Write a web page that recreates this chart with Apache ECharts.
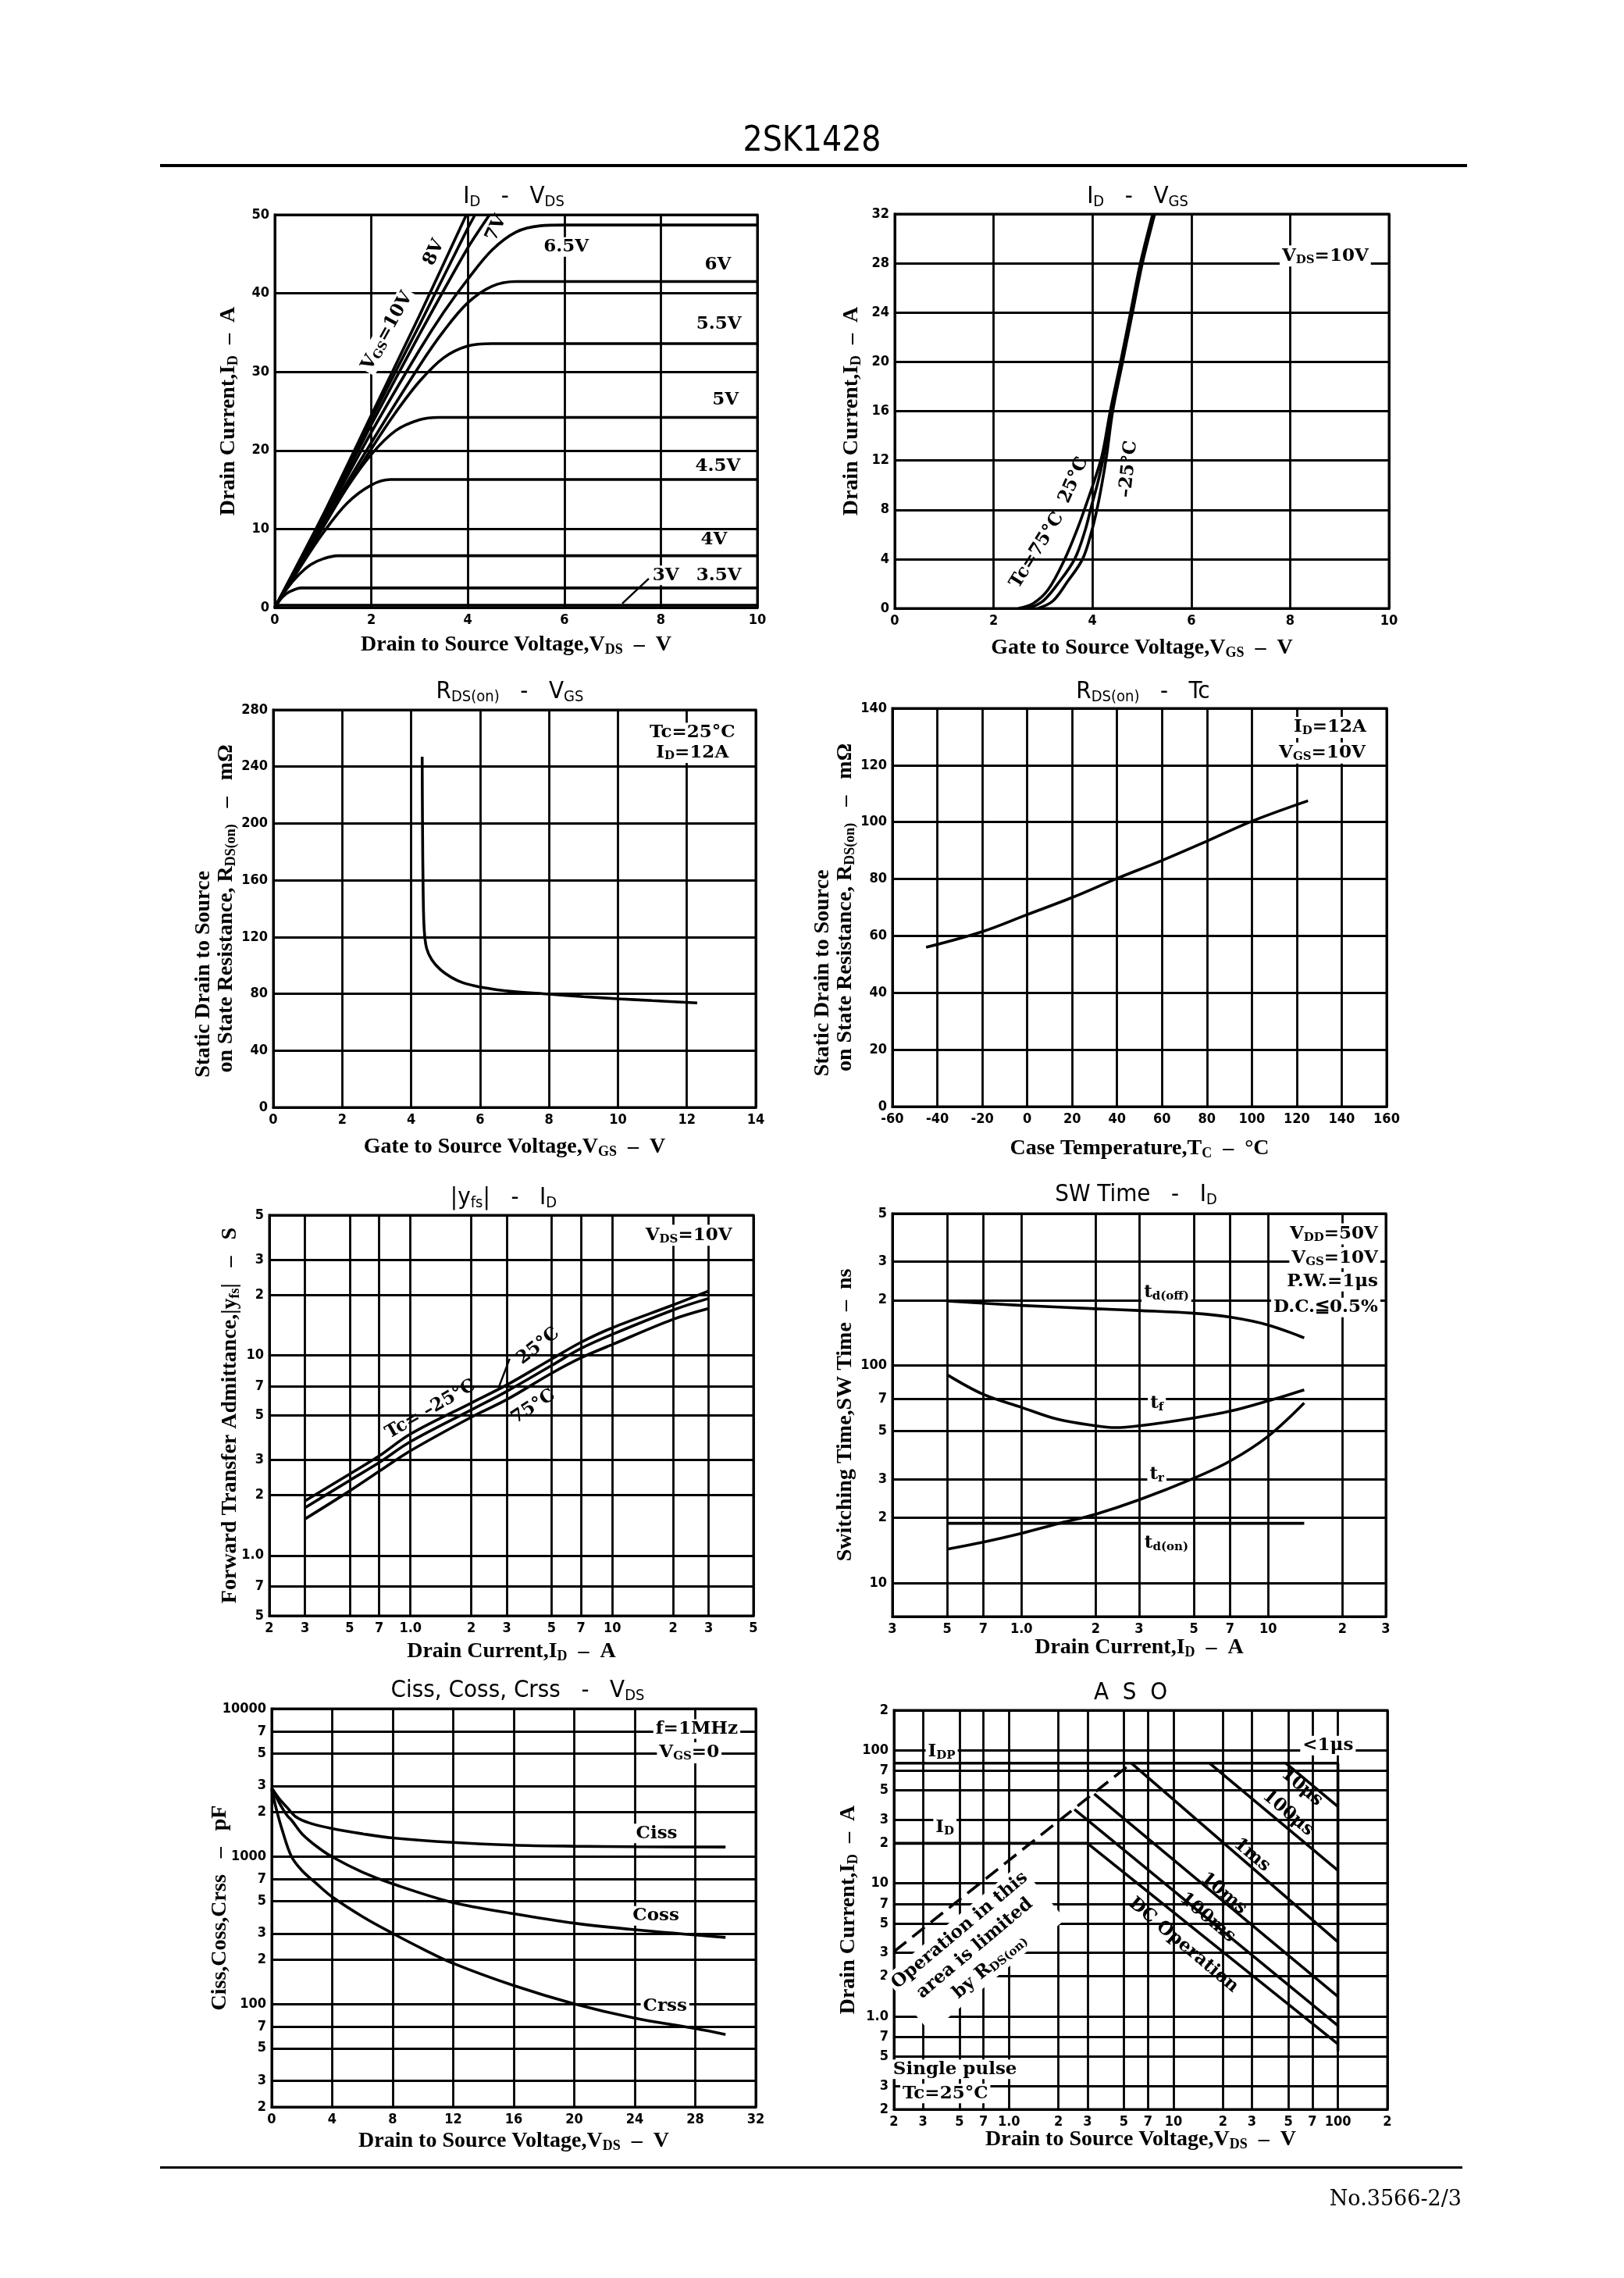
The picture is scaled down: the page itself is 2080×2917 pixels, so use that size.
<!DOCTYPE html>
<html><head><meta charset="utf-8">
<script src="https://cdn.jsdelivr.net/npm/echarts@6/dist/echarts.min.js"></script>
<style>html,body{margin:0;padding:0;background:#fff}#c{width:2080px;height:2917px}</style>
</head><body><div id="c"></div>
<script>
// ================= DATA =================
// Chart 1: ID - VDS  ([VDS V, ID A])
const vds10V = [[0,0],[1,11.8],[2,24.5],[3,37.2],[3.97,50]];
const vds8V  = [[0,0],[1,11.6],[2,24],[3,36],[4,48.3],[4.15,50]];
const vds7V  = [[0,0],[1,11.3],[2,23.3],[3,34.8],[4,45.8],[4.45,50]];
const vds6V5 = [[0,0],[1,11],[2,22.3],[3,32.8],[3.5,37.6],[4,41.8],[4.5,45.5],[5,47.8],[5.5,48.6],[6,48.7],[10,48.7]];
const vds6V  = [[0,0],[1,10.7],[2,21],[3,30.8],[3.5,35.2],[4,38.8],[4.5,40.9],[5,41.5],[6,41.5],[10,41.5]];
const vds5V5 = [[0,0],[1,10.4],[2,20.2],[2.5,24.8],[3,28.8],[3.5,31.8],[4,33.3],[4.5,33.6],[5.5,33.6],[10,33.6]];
const vds5V  = [[0,0],[0.5,5.2],[1,10.2],[1.5,15.3],[2,19.5],[2.5,22.5],[3,23.9],[3.4,24.2],[4.5,24.2],[10,24.2]];
const vds4V5 = [[0,0],[0.5,4.9],[1,9.5],[1.5,13.3],[2,15.6],[2.4,16.3],[3.5,16.3],[10,16.3]];
const vds4V  = [[0,0],[0.25,2.4],[0.5,4.2],[0.75,5.5],[1,6.2],[1.3,6.6],[2.5,6.6],[10,6.6]];
const vds3V5 = [[0,0],[0.15,1.3],[0.3,2.0],[0.55,2.5],[1.5,2.5],[10,2.5]];
const vds3V  = [[0,0],[0.1,0.3],[1,0.3],[10,0.3]];

// Chart 2: ID - VGS ([VGS V, ID A])
const vgsTc75  = [[2.5,0],[2.8,0.4],[3.1,1.5],[3.44,4],[3.7,6.5],[3.88,8.5],[4.05,10.5],[4.2,12.5],[4.36,16],[4.57,20],[4.77,24],[4.97,28],[5.22,32]];
const vgsTc25  = [[2.7,0],[3.0,0.6],[3.3,2.0],[3.64,4],[3.85,6.3],[3.98,8.3],[4.12,10.4],[4.24,12.6],[4.38,16],[4.59,20],[4.79,24],[4.99,28],[5.24,32]];
const vgsTcM25 = [[2.9,0],[3.2,0.6],[3.5,2.2],[3.8,4],[3.98,6.2],[4.1,8.2],[4.2,10.3],[4.29,12.5],[4.41,16],[4.61,20],[4.81,24],[5.01,28],[5.26,32]];

// Chart 3: RDS(on) - VGS ([VGS V, mOhm])
const rdsVgs = [[4.32,247],[4.33,200],[4.35,150],[4.38,125],[4.45,112],[4.6,104],[4.85,97],[5.17,91.5],[5.5,87.8],[6,84.8],[6.5,82.8],[7,81.5],[8,79.8],[9,78],[10,76.5],[11,75.2],[12.3,73.6]];

// Chart 4: RDS(on) - Tc ([degC, mOhm])
const rdsTc = [[-45,56],[-20,61.5],[0,67.5],[20,73.5],[40,80.2],[60,86.5],[80,93.3],[100,100.3],[125,107.5]];

// Chart 5: |yfs| - ID ([A, S])
const yfsM25 = [[0.3,1.87],[0.5,2.55],[0.7,3.14],[1,4.04],[2,5.77],[3,7.1],[5,9.56],[7,11.6],[10,13.7],[20,17.8],[30,20.9]];
const yfs25  = [[0.3,1.73],[0.5,2.37],[0.7,2.91],[1,3.7],[2,5.33],[3,6.6],[5,8.88],[7,10.8],[10,12.7],[20,16.8],[30,19.2]];
const yfs75  = [[0.3,1.52],[0.5,2.1],[0.7,2.63],[1,3.33],[2,4.9],[3,6.0],[5,8.12],[7,9.7],[10,11.3],[20,15.1],[30,17.1]];
const yfsXTicks = [0.2,0.3,0.5,0.7,1,2,3,5,7,10,20,30,50];
const yfsXLabels = ['2','3','5','7','1.0','2','3','5','7','10','2','3','5'];
const yfsYTicks = [0.5,0.7,1,2,3,5,7,10,20,30,50];
const yfsYLabels = ['5','7','1.0','2','3','5','7','10','2','3','5'];

// Chart 6: SW Time - ID ([A, ns])
const swTdOff = [[0.5,198],[1,189],[2,182.5],[3,179],[5,174],[7,167],[10,153.6],[14,134]];
const swTf    = [[0.5,90.7],[0.7,73.7],[1,64.2],[1.4,56.6],[2,52.8],[2.4,51.8],[3,52.8],[5,57.4],[7,61.6],[10,68.8],[14,77.3]];
const swTr    = [[0.5,14.3],[0.7,15.4],[1,16.9],[1.4,18.7],[2,20.7],[3,24.1],[5,30.3],[7,36.3],[10,47.3],[14,67.3]];
const swTdOn  = [[0.5,18.8],[14,18.8]];
const swXTicks = [0.3,0.5,0.7,1,2,3,5,7,10,20,30];
const swXLabels = ['3','5','7','1.0','2','3','5','7','10','2','3'];
const swYTicks = [10,20,30,50,70,100,200,300,500];
const swYLabels = ['10','2','3','5','7','100','2','3','5'];

// Chart 7: Ciss, Coss, Crss - VDS ([V, pF])
const capCiss = [[0,2900],[0.5,2450],[1,2150],[1.6,1850],[2.5,1680],[4,1540],[6,1420],[8,1330],[12,1240],[16,1190],[20,1170],[24,1160],[30,1155]];
const capCoss = [[0,2900],[0.5,2300],[1,1900],[1.34,1740],[2,1420],[3,1160],[4,990],[6,780],[8,650],[12,485],[16,408],[20,352],[24,318],[30,282]];
const capCrss = [[0,2850],[0.3,2100],[0.7,1500],[1.3,1000],[2,800],[3,647],[4,530],[6,390],[8,300],[10,235],[12,188],[16,133],[20,100],[24,80],[28,68],[30,62]];
const capYTicks = [20,30,50,70,100,200,300,500,700,1000,2000,3000,5000,7000,10000];
const capYLabels = ['2','3','5','7','100','2','3','5','7','1000','2','3','5','7','10000'];

// Chart 8: ASO ([V, A])
const asoIdp   = [[0.2,80],[100,80]];
const asoDc    = [[0.2,20],[3.0,20],[100,0.62]];
const asoVdss  = [[100,80],[100,0.55]];
const asoRds   = [[0.2,3.07],[5.56,80]];
const aso10us  = [[48.3,80],[100,37.7]];
const aso100us = [[16.6,80],[100,12.5]];
const aso1ms   = [[5.56,80],[100,3.63]];
const aso10ms  = [[3.3,47],[100,1.41]];
const aso100ms = [[2.5,36],[100,0.85]];
const asoTicks = [0.2,0.3,0.5,0.7,1,2,3,5,7,10,20,30,50,70,100,200];
const asoLabels = ['2','3','5','7','1.0','2','3','5','7','10','2','3','5','7','100','2'];

// ================= STYLE / LAYOUT =================
const SF = 'Liberation Serif';
const AF = 'DejaVu Serif';
const TF = 'DejaVu Sans Condensed';
const NF = 'DejaVu Sans Condensed';
function subRich(fs, fam, w) {
  return { s: { fontSize: Math.round(fs*0.66), fontFamily: fam, fontWeight: w, color:'#000', padding:[Math.round(fs*0.45),0,0,0] } };
}
function zsubRich(fs, fam, w) {
  return { s: { fontSize: Math.round(fs*0.66), fontFamily: fam, fontWeight: w, fill:'#000', padding:[Math.round(fs*0.45),0,0,0] } };
}
const NAME_FS = 28, TICK_FS = 18, ANN_FS = 23, TITLE_FS = 31;
const nameStyle = {fontFamily:SF, fontWeight:'bold', fontSize:NAME_FS, color:'#000', rich: subRich(NAME_FS, SF, 'bold')};
const tickStyle = {fontFamily:NF, fontWeight:'bold', fontSize:TICK_FS, color:'#000'};
const WB = {backgroundColor:'#fff', padding:[1,3]};
const GRID_W = 2.8;

const grids = [
  {left:352, top:275, width:618, height:503},
  {left:1146, top:274, width:633, height:505},
  {left:350, top:909, width:618, height:509},
  {left:1143, top:907, width:633, height:510},
  {left:345, top:1556, width:620, height:513},
  {left:1143, top:1554, width:632, height:516},
  {left:348, top:2188, width:620, height:510},
  {left:1145, top:2190, width:632, height:511}
].map(g => Object.assign({show:true, borderColor:'#000', borderWidth:3, containLabel:false}, g));

function axis(dim, i, o) {
  const a = {
    type: o.log ? 'log' : 'value', gridIndex: i, min: o.min, max: o.max,
    name: o.name, nameLocation:'middle', nameGap: o.gap,
    nameTextStyle: Object.assign({}, nameStyle, o.nameStyle || {}),
    axisLine: {show:true, onZero:false, lineStyle:{color:'#000', width:3}},
    axisTick: {show:false},
    axisLabel: o.log ? {show:false} : Object.assign({margin:7}, tickStyle),
    splitLine: {show: !o.log, lineStyle:{color:'#000', width:GRID_W}}
  };
  if (o.log) a.logBase = 10; else a.interval = o.interval;
  if (dim === 'y') a.nameRotate = 90;
  return a;
}
const X_VDS = 'Drain to Source Voltage,V{s|DS}  –  V';
const X_VGS = 'Gate to Source Voltage,V{s|GS}  –  V';
const X_ID = 'Drain Current,I{s|D}  –  A';
const Y_ID = 'Drain Current,I{s|D}  –  A';
const Y_RDS = 'Static Drain to Source' + '\u2003'.repeat(6) + '\non State Resistance, R{s|DS(on)}   –   mΩ';

const xAxes = [
  axis('x',0,{min:0,max:10,interval:2,name:X_VDS,gap:32}),
  axis('x',1,{min:0,max:10,interval:2,name:X_VGS,gap:35}),
  axis('x',2,{min:0,max:14,interval:2,name:X_VGS,gap:35}),
  axis('x',3,{min:-60,max:160,interval:20,name:'Case Temperature,T{s|C}  –  °C',gap:38}),
  axis('x',4,{log:true,min:0.2,max:50,name:X_ID,gap:30}),
  axis('x',5,{log:true,min:0.3,max:30,name:X_ID,gap:24}),
  axis('x',6,{min:0,max:32,interval:4,name:X_VDS,gap:28}),
  axis('x',7,{log:true,min:0.2,max:200,name:X_VDS,gap:23})
];
const yAxes = [
  axis('y',0,{min:0,max:50,interval:10,name:Y_ID,gap:44}),
  axis('y',1,{min:0,max:32,interval:4,name:Y_ID,gap:40}),
  axis('y',2,{min:0,max:280,interval:40,name:Y_RDS,gap:44}),
  axis('y',3,{min:0,max:140,interval:20,name:Y_RDS,gap:40}),
  axis('y',4,{log:true,min:0.5,max:50,name:'Forward Transfer Admittance,|y{s|fs}|   –   S',gap:35}),
  axis('y',5,{log:true,min:7,max:500,name:'Switching Time,SW Time  –  ns',gap:46}),
  axis('y',6,{log:true,min:20,max:10000,name:'Ciss,Coss,Crss   –   pF',gap:52}),
  axis('y',7,{log:true,min:0.2,max:200,name:Y_ID,gap:43})
];

function logGrid(xv, xl, yv, yl) {
  const data = [];
  if (xv) xv.forEach((v,k) => data.push({xAxis:v, name:xl[k]}));
  if (yv) yv.forEach((v,k) => data.push({yAxis:v, name:yl[k]}));
  return {silent:true, z:1, symbol:['none','none'], animation:false,
    lineStyle:{color:'#000', width:GRID_W, type:'solid'},
    label:Object.assign({show:true, position:'start', distance:7, formatter:p => p.name}, tickStyle),
    emphasis:{disabled:true}, data};
}
// small curved leader lines from a label to its curve
function leader(pairs) {
  return {silent:true, z:4, symbol:['none','none'], animation:false,
    lineStyle:{color:'#000', width:2.4, type:'solid', curveness:0.35},
    label:{show:false}, emphasis:{disabled:true},
    data: pairs.map(p => [{coord:p[0]},{coord:p[1]}])};
}
function anns(list) {
  return {silent:true, z:6, symbol:'circle', symbolSize:0, itemStyle:{color:'rgba(0,0,0,0)'}, animation:false,
    label:{show:true, position:'inside', formatter:p => p.name, color:'#000', fontFamily:AF, fontWeight:'bold',
      fontSize:ANN_FS, rich: subRich(ANN_FS, AF, 'bold')},
    emphasis:{disabled:true},
    data: list.map(a => ({coord:[a[1],a[2]], name:a[0], label:Object.assign({}, a[3] || {})}))};
}
function line(i, data, extra) {
  return Object.assign({type:'line', xAxisIndex:i, yAxisIndex:i, data, symbol:'none', showSymbol:false,
    smooth:0.35, lineStyle:{color:'#000', width:3.6}, silent:true, animation:false, z:3}, extra || {});
}
const straight = {smooth:false};

const series = [
  // Chart 1
  line(0, vds10V, {smooth:0.2, markLine: leader([[[7.75,3.7],[7.2,0.5]]]), markPoint: anns([
    ['6.5V',6.04,45.9,WB],['6V',9.18,43.6,WB],['5.5V',9.2,36.1,WB],['5V',9.34,26.4,WB],
    ['4.5V',9.18,18.0,WB],['4V',9.1,8.6,WB],['3.5V',9.2,4.1,WB],['3V',8.1,4.1,WB],
    ['V{s|GS}=10V',2.33,35.2,Object.assign({rotate:61},WB)],['8V',3.3,45.2,{rotate:65}],['7V',4.59,48.3,{rotate:65}]
  ])}),
  line(0, vds8V, {smooth:0.2}), line(0, vds7V, {smooth:0.2}), line(0, vds6V5), line(0, vds6V), line(0, vds5V5),
  line(0, vds5V), line(0, vds4V5), line(0, vds4V), line(0, vds3V5), line(0, vds3V),
  // Chart 2
  line(1, vgsTc75, {markPoint: anns([
    ['V{s|DS}=10V',8.71,28.6,WB],['Tc=75°C',2.88,4.7,{rotate:58}],['25°C',3.62,10.4,{rotate:66}],['–25°C',4.73,11.3,{rotate:84}]
  ])}),
  line(1, vgsTc25), line(1, vgsTcM25),
  // Chart 3
  line(2, rdsVgs, {markPoint: anns([['Tc=25°C',12.16,264,WB],['I{s|D}=12A',12.16,250,WB]])}),
  // Chart 4
  line(3, rdsTc, {markPoint: anns([['I{s|D}=12A',134.8,133.3,WB],['V{s|GS}=10V',131.3,124.3,WB]])}),
  // Chart 5
  line(4, yfsM25, {markLine: logGrid(yfsXTicks, yfsXLabels, yfsYTicks, yfsYLabels), markPoint: anns([
    ['V{s|DS}=10V',23.9,39.7,WB],['Tc= –25°C',1.26,5.36,{rotate:30}],['25°C',4.3,11.1,{rotate:38}],['75°C',4.06,5.52,{rotate:33}]
  ])}),
  line(4, yfs25, {markLine: leader([[[3.1,9.6],[2.75,7.0]]])}), line(4, yfs75),
  // Chart 6
  line(5, swTdOff, {markLine: logGrid(swXTicks, swXLabels, swYTicks, swYLabels), markPoint: anns([
    ['t{s|d(off)}',3.87,217,WB],['t{s|f}',3.54,66.9,WB],['t{s|r}',3.54,31.6,WB],['t{s|d(on)}',3.87,15.2,WB],
    ['V{s|DD}=50V',28.5,403,Object.assign({align:'right'},WB)],['V{s|GS}=10V',28.5,313,Object.assign({align:'right'},WB)],
    ['P.W.=1μs',28.5,243,Object.assign({align:'right'},WB)],['D.C.≦0.5%',28.5,185,Object.assign({align:'right'},WB)]
  ])}),
  line(5, swTf), line(5, swTr), line(5, swTdOn, straight),
  // Chart 7
  line(6, capCiss, {markLine: logGrid(null, null, capYTicks, capYLabels), markPoint: anns([
    ['Ciss',25.45,1427,WB],['Coss',25.4,395,WB],['Crss',26,96.6,WB],['f=1MHz',28.1,7290,WB],['V{s|GS}=0',27.6,5030,WB]
  ])}),
  line(6, capCoss), line(6, capCrss),
  // Chart 8
  line(7, asoIdp, {smooth:false, markLine: logGrid(asoTicks, asoLabels, asoTicks, asoLabels), markPoint: anns([
    ['I{s|DP}',0.39,98,WB],['I{s|D}',0.408,26.2,WB],['<1μs',87,108.6,WB],
    ['10μs',60.4,52.7,{rotate:-40}],['100μs',49.7,33.7,{rotate:-40}],['1ms',30,16.3,{rotate:-40}],
    ['10ms',20.2,8.37,{rotate:-40}],['100ms',16.1,5.51,{rotate:-40}],['DC Operation',11.5,3.43,{rotate:-40}],
    ['Operation in this\narea is limited\nby R{s|DS(on)}',0.62,3.24,Object.assign({rotate:40, lineHeight:30},WB)],
    ['Single pulse',0.47,0.40,WB],['Tc=25°C',0.41,0.263,WB]
  ])}),
  line(7, asoDc, straight), line(7, asoVdss, straight),
  line(7, asoRds, {smooth:false, lineStyle:{color:'#000', width:3.6, type:[20,10]}}),
  line(7, aso10us, straight), line(7, aso100us, straight), line(7, aso1ms, straight),
  line(7, aso10ms, straight), line(7, aso100ms, straight)
];

function gtext(text, x, y, o) {
  return {type:'text', x, y, silent:true, style:Object.assign({text, fill:'#000', align:'center', verticalAlign:'middle'}, o)};
}
const tStyle = {fontFamily:TF, fontSize:TITLE_FS, rich: zsubRich(TITLE_FS, TF, 'normal')};
const graphic = [
  gtext('2SK1428', 1040, 182, {fontFamily:TF, fontSize:44}),
  {type:'rect', silent:true, shape:{x:205, y:210, width:1674, height:4}, style:{fill:'#000'}},
  {type:'rect', silent:true, shape:{x:205, y:2774, width:1668, height:3}, style:{fill:'#000'}},
  gtext('No.3566-2/3', 1872, 2817, {fontFamily:'DejaVu Serif', fontSize:27, align:'right'}),
  gtext('I{s|D}   -   V{s|DS}', 658, 252, tStyle),
  gtext('I{s|D}   -   V{s|GS}', 1457, 252, tStyle),
  gtext('R{s|DS(on)}   -   V{s|GS}', 653, 886, tStyle),
  gtext('R{s|DS(on)}   -   Tc', 1464, 886, tStyle),
  gtext('|y{s|fs}|   -   I{s|D}', 645, 1534, tStyle),
  gtext('SW Time   -   I{s|D}', 1455, 1530, tStyle),
  gtext('Ciss, Coss, Crss   -   V{s|DS}', 663, 2165, tStyle),
  gtext('A  S  O', 1448, 2168, tStyle)
];

const chart = echarts.init(document.getElementById('c'), null, {width:2080, height:2917});
chart.setOption({
  backgroundColor:'#fff', animation:false,
  grid: grids, xAxis: xAxes, yAxis: yAxes, series, graphic
});
</script></body></html>
